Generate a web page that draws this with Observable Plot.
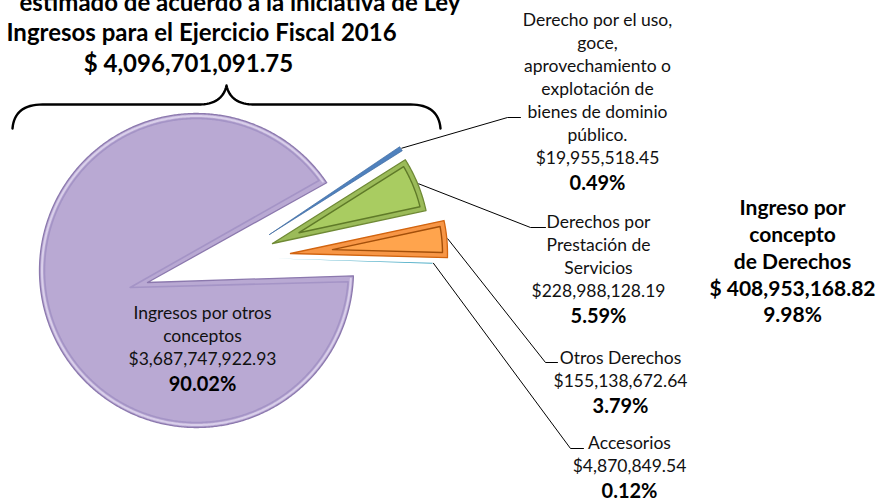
<!DOCTYPE html>
<html><head><meta charset="utf-8">
<script src="https://cdn.jsdelivr.net/npm/d3@7"></script>
<script src="https://cdn.jsdelivr.net/npm/@observablehq/plot@0.6"></script>
<style>html,body{margin:0;padding:0;background:#fff;} #chart{width:878px;height:501px;overflow:hidden}</style>
</head><body><div id="chart"></div>
<script>
// ---- data ----
const categories = [
  "Derecho por el uso,\ngoce,\naprovechamiento o\nexplotación de\nbienes de dominio\npúblico.",
  "Derechos por\nPrestación de\nServicios",
  "Otros Derechos",
  "Accesorios",
  "Ingresos por otros\nconceptos"
];
const amounts = [19955518.45, 228988128.19, 155138672.64, 4870849.54, 3687747922.93];
const sliceColors = ["#4f81bd", "#9bbb59", "#f79646", "#4bacc6", "#b9a9d3"];
const edgeColors  = ["#3e6aa0", "#6f8a35", "#d2640f", "#4bacc6", "#8c79ae"];
const innerColors = ["#385d8a", "#5f7a28", "#a34f0a", "#31859c", "#a291c4"];
const titleLines = ["estimado de acuerdo a la iniciativa de Ley", "Ingresos para el Ejercicio Fiscal 2016"];
const derechosTitle = ["Ingreso por", "concepto", "de Derechos"];

// ---- layout ----
const rad = Math.PI / 180;
const R = 157, C = [196, 270], START = 56;
const OFF = [[73, -36], [76, -27], [94, -17], [79, -12], [-49, 12]];
const LABEL = [[597, 20], [598, 222], [620, 358], [629, 443], [202, 313]];
const ELBOW = [[507, 117, 520], [530, 227, 545], [545, 362, 557], [570, 448, 583]];
const LSTEP = 23;

const total = d3.sum(amounts);
const derechos = d3.sum(amounts.slice(0, 4));
const fmtMoney = v => "$" + d3.format(",.2f")(v);
const fmtPct = v => d3.format(".2f")(v) + "%";

const arcs = d3.pie().sort(null).startAngle(START * rad).endAngle(START * rad + 2 * Math.PI)(amounts);
const pt = (cx, cy, r, a) => ({x: cx + r * Math.sin(a), y: cy - r * Math.cos(a)});
function arcPts(cx, cy, r, a0, a1) {
  const n = Math.max(2, Math.ceil(Math.abs(a1 - a0) / (0.5 * rad)));
  return d3.range(n + 1).map(i => pt(cx, cy, r, a0 + (a1 - a0) * i / n));
}

const marks = [];
const leaders = [];
const order = [4, 3, 0, 1, 2];
for (const i of order) {
  const a = arcs[i];
  const big = i === 4;
  const ax = C[0] + OFF[i][0], ay = C[1] + OFF[i][1];
  const cx = big ? C[0] : ax, cy = big ? C[1] : ay;
  const outer = [{x: ax, y: ay}, ...arcPts(cx, cy, R, a.startAngle, a.endAngle), {x: ax, y: ay}];
  const half = (a.endAngle - a.startAngle) / 2, mid = (a.startAngle + a.endAngle) / 2;
  const thin = half < 0.5 * rad;
  const narrow = half < 2 * rad;
  marks.push(Plot.line(outer, {x: "x", y: "y", fill: sliceColors[i],
    stroke: thin ? "none" : edgeColors[i], strokeWidth: narrow ? 0.7 : 1.3, strokeLinejoin: "round"}));
  const d = 5;
  if (big) {
    marks.push(Plot.line(arcPts(cx, cy, R - 2.5, a.startAngle + 0.02, a.endAngle - 0.02),
      {x: "x", y: "y", stroke: "#d9cfea", strokeWidth: 2}));
    const g = (arcs[0].startAngle + arcs[3].endAngle) / 2;
    const ip = {x: ax - 18 * Math.sin(g), y: ay + 18 * Math.cos(g)};
    const inner = [ip, ...arcPts(cx, cy, R - d, a.startAngle + 0.04, a.endAngle - 0.04), ip];
    marks.push(Plot.line(inner, {x: "x", y: "y", stroke: innerColors[i], strokeWidth: 1.6, strokeOpacity: 0.9}));
  } else if (!narrow) {
    const k = d / Math.sin(half);
    const ip = {x: ax + k * Math.sin(mid), y: ay - k * Math.cos(mid)};
    const dd = Math.asin(d / (R - d));
    const inner = [ip, ...arcPts(cx, cy, R - d, a.startAngle + dd, a.endAngle - dd), ip];
    marks.push(Plot.line(inner, {x: "x", y: "y", fill: d3.color(sliceColors[i]).brighter(0.25).formatHex(), stroke: innerColors[i], strokeWidth: 1.4}));
  }
  if (!big) {
    const tip = pt(cx, cy, R + 1, mid);
    const e = ELBOW[i];
    leaders.push([tip, {x: e[0], y: e[1]}, {x: e[2], y: e[1]}]);
  }
}

// brace
function quad(p0, c, p1, n = 16) {
  return d3.range(n + 1).map(k => { const t = k / n, u = 1 - t;
    return {x: u*u*p0[0] + 2*u*t*c[0] + t*t*p1[0], y: u*u*p0[1] + 2*u*t*c[1] + t*t*p1[1]}; });
}
const brace = [
  ...quad([12, 128], [14, 104], [42, 104]),
  ...quad([198, 104], [222, 104], [226, 85]),
  ...quad([226, 85], [230, 104], [254, 104]),
  ...quad([410, 104], [438, 104], [440, 128])
];

// texts
const regular = [], bold = [];
arcs.forEach((a, i) => {
  const lines = categories[i].split("\n").concat([fmtMoney(amounts[i])]);
  const [lx, ly] = LABEL[i];
  lines.forEach((t, k) => regular.push({x: lx, y: ly + k * LSTEP, text: t}));
  bold.push({x: lx, y: ly + (lines.length - 1) * LSTEP + 25, text: fmtPct(amounts[i] / total * 100)});
});
const sumLines = derechosTitle.concat([`$ ${d3.format(",.2f")(derechos)}`, fmtPct(derechos / total * 100)]);
const summary = sumLines.map((t, k) => ({x: 792, y: 208 + k * 26.8, text: t}));
const title = [
  {x: 460, y: 3, text: titleLines[0], anchor: "end"},
  {x: 201, y: 33, text: titleLines[1], anchor: "middle"},
  {x: 188, y: 64, text: `$ ${d3.format(",.2f")(total)}`, anchor: "middle"}
];

const FONT = "Lato, 'Open Sans', sans-serif";
const chart = Plot.plot({
  width: 878, height: 501, margin: 0,
  x: {domain: [0, 878], range: [0, 878], axis: null},
  y: {domain: [0, 501], range: [0, 501], axis: null},
  style: {fontFamily: FONT, background: "#fff"},
  marks: [
    Plot.line(brace, {x: "x", y: "y", stroke: "#000", strokeWidth: 2.4, curve: "linear"}),
    ...marks,
    ...leaders.map(L => Plot.line(L, {x: "x", y: "y", stroke: "#000", strokeWidth: 1})),
    Plot.text(regular, {x: "x", y: "y", text: "text", fontSize: 17.5, fill: "#111", lineAnchor: "middle"}),
    Plot.text(bold, {x: "x", y: "y", text: "text", fontSize: 20, fontWeight: "bold", fill: "#000", lineAnchor: "middle"}),
    Plot.text(summary, {x: "x", y: "y", text: "text", fontSize: 21, fontWeight: "bold", fill: "#000", lineAnchor: "middle"}),
    Plot.text(title.filter(d => d.anchor === "end"), {x: "x", y: "y", text: "text", fontSize: 24, fontWeight: "bold", fill: "#000", textAnchor: "end", lineAnchor: "middle"}),
    Plot.text(title.filter(d => d.anchor === "middle"), {x: "x", y: "y", text: "text", fontSize: 24, fontWeight: "bold", fill: "#000", lineAnchor: "middle"})
  ]
});
document.getElementById("chart").appendChild(chart);
</script>
</body></html>
